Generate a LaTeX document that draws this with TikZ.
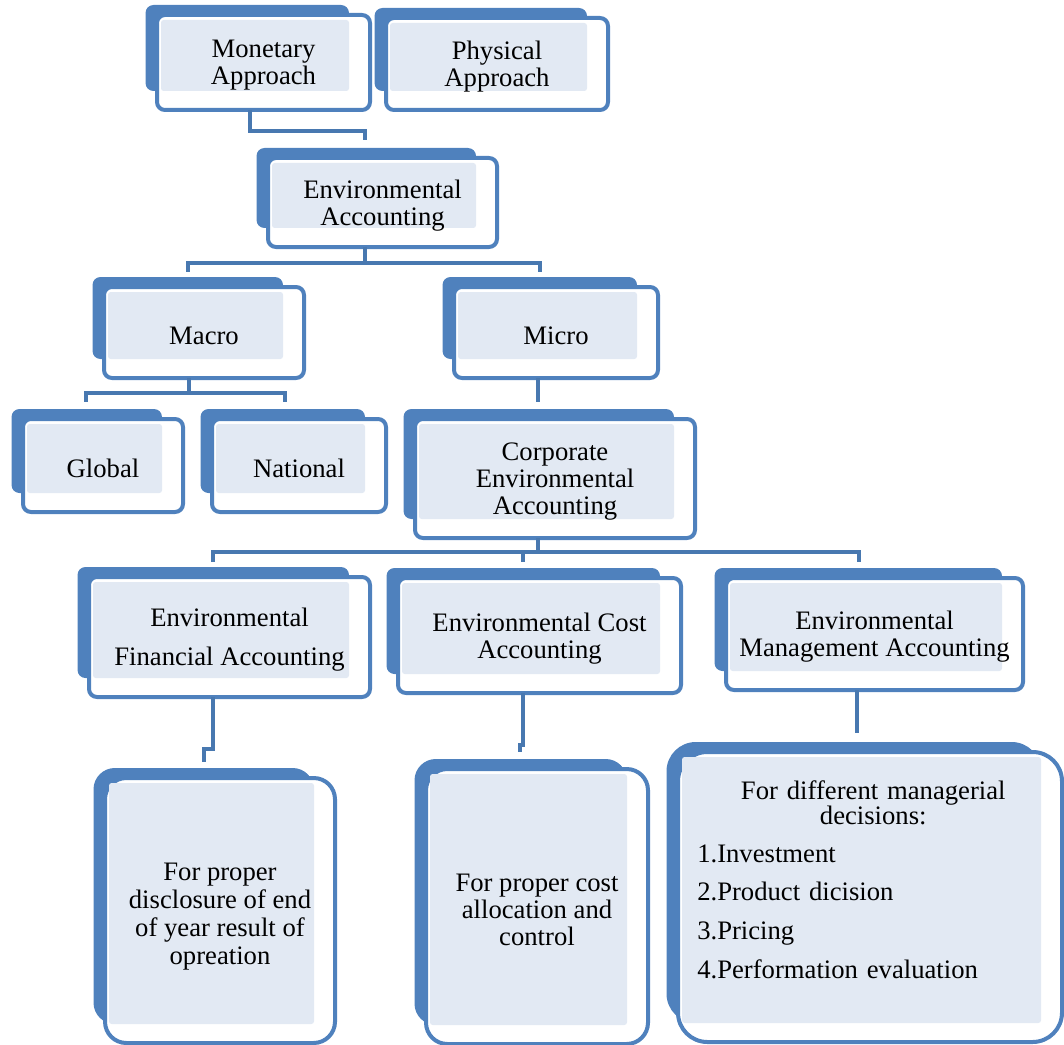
\documentclass[tikz,border=0pt]{standalone}
\usepackage{fontspec}
\setmainfont{Liberation Serif}
\usetikzlibrary{calc,fit}
\setlength{\parindent}{0pt}
\definecolor{backc}{RGB}{79,129,189}
\definecolor{framec}{RGB}{79,129,189}
\definecolor{dotc}{RGB}{226,233,243}
\definecolor{connc}{RGB}{72,120,176}
\tikzset{
  txt/.style={align=center, font=\fontsize{20}{20.25}\selectfont, inner sep=0pt, text=black, yshift=-2.2pt},
  conn/.style={draw=connc, line width=3pt},
  hit/.style={inner sep=0pt, draw=none},
}
% #1 radius, #2 name, #3 x1, #4 y1, #5 x2, #6 y2 (front box, pixel units)
\newcommand{\ebox}[6][6pt]{%
  \fill[backc, rounded corners=#1] (#3-11.5,#4-10) rectangle (#5-21,#6-19);
  \draw[framec, line width=3pt, fill=white, rounded corners=#1] (#3,#4) rectangle (#5,#6);
  \fill[dotc, rounded corners=2pt] (#3+4,#4+5) rectangle (#5-21,#6-19);
  \node[hit, fit={(#3,#4)(#5,#6)}] (#2) {};
}
\begin{document}
\begin{tikzpicture}[x=0.75pt, y=-0.75pt]
\useasboundingbox (0,0) rectangle (1064,1045);

\ebox{mon}{157}{15}{370}{110}
\ebox{phy}{386}{18}{608}{110}
\ebox{env}{268}{158}{497}{247}
\ebox{mac}{104}{287}{304}{378}
\ebox{mic}{454}{287}{658}{378}
\ebox{glo}{23}{419}{183}{512}
\ebox{nat}{212}{419}{386}{512}
\ebox{cor}{415}{419}{695}{538}
\ebox{efa}{89}{577}{370}{697}
\ebox{eca}{398}{578}{681}{693}
\ebox{ema}{726}{578}{1023}{690}
\ebox[16pt]{dis}{105}{778}{335}{1043}
\ebox[16pt]{cos}{426}{769}{648}{1044}
\ebox[22pt]{mgr}{678}{752}{1062}{1042}

\node[txt] (tmon) at (mon) {Monetary\\Approach};
\node[txt] (tphy) at (phy) {Physical\\Approach};
\node[txt] (tenv) at (env) {Environmental\\Accounting};
\node[txt] (tmac) at (mac) {Macro};
\node[txt] (tmic) at (mic) {Micro};
\node[txt] (tglo) at (glo) {Global};
\node[txt] (tnat) at (nat) {National};
\node[txt] (tcor) at (cor) {Corporate\\Environmental\\Accounting};
\node[txt] (tefa) at (efa) {Environmental\\[9pt]Financial Accounting};
\node[txt] (teca) at (eca) {Environmental Cost\\Accounting};
\node[txt] (tema) at (ema) {Environmental\\Management Accounting};
\node[txt, font=\fontsize{20}{21}\selectfont] (tdis) at ($(dis)+(0,3)$) {For proper\\disclosure of end\\of year result of\\opreation};
\node[txt] (tcos) at (cos) {For proper cost\\allocation and\\control};
\node[txt, text width=264pt, align=left, anchor=north west] (tmgr) at (697,778)
  {{\centering For different managerial\\[-1.5pt]decisions:\par}\vspace{8.25pt}
   1.Investment\\[8.25pt]2.Product dicision\\[8.8pt]3.Pricing\\[9pt]4.Performation evaluation};

% connectors
\draw[conn] (mon.south -| 250,0) |- (365,131) -- ($(env.north -| 365,0)+(0,-18)$);
\draw[conn] (env.south -| 365,0) -- (365,263);
\draw[conn] ($(mac.north -| 188,0)+(0,-15)$) -- ++(0,-9) -| ($(mic.north -| 540,0)+(0,-15)$);
\draw[conn] (mac.south -| 189,0) -- ++(0,15);
\draw[conn] ($(glo.north -| 86,0)+(0,-17)$) -- ++(0,-9) -| ($(nat.north -| 285,0)+(0,-17)$);
\draw[conn] (mic.south -| 538,0) -- ($(cor.north -| 538,0)+(0,-17)$);
\draw[conn] (cor.south -| 538,0) -- ++(0,14);
\draw[conn] ($(efa.north -| 213,0)+(0,-15)$) -- ++(0,-10) -| ($(ema.north -| 859,0)+(0,-16)$);
\draw[conn] ($(eca.north -| 523,0)+(0,-16)$) -- ++(0,-10);
\draw[conn] (efa.south -| 213,0) |- (204,749) -- ($(dis.north -| 204,0)+(0,-16)$);
\draw[conn] (eca.south -| 523,0) |- (520,745) -- ($(cos.north -| 520,0)+(0,-17)$);
\draw[conn] (ema.south -| 857,0) -- ($(mgr.north -| 857,0)+(0,-19)$);
\end{tikzpicture}
\end{document}
